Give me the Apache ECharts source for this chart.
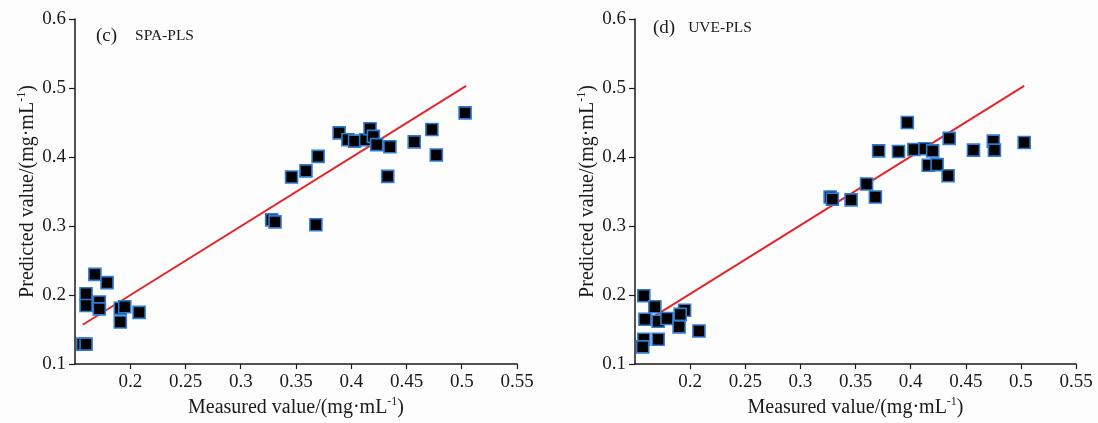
<!DOCTYPE html>
<html>
<head>
<meta charset="utf-8">
<script src="https://cdn.jsdelivr.net/npm/echarts@6/dist/echarts.min.js"></script>
<style>
  html, body { margin: 0; padding: 0; background: #fdfdfd; }
  #chart { width: 1098px; height: 423px; }
</style>
</head>
<body>
<div id="chart"></div>
<script>
// Panel (c): SPA-PLS, measured vs predicted
const measuredC = [0.168, 0.179, 0.160, 0.160, 0.172, 0.172, 0.191, 0.195, 0.191, 0.208, 0.157, 0.160,
  0.328, 0.331, 0.368, 0.346, 0.359, 0.370, 0.389, 0.397, 0.403, 0.413, 0.417, 0.420, 0.423,
  0.435, 0.433, 0.457, 0.473, 0.477, 0.503];
const predictedC = [0.230, 0.218, 0.202, 0.185, 0.190, 0.180, 0.181, 0.183, 0.161, 0.175, 0.129, 0.129,
  0.309, 0.306, 0.302, 0.371, 0.380, 0.401, 0.435, 0.425, 0.423, 0.425, 0.441, 0.430, 0.418,
  0.415, 0.372, 0.422, 0.440, 0.403, 0.464];
const fitC = [[0.157, 0.157], [0.504, 0.503]];

// Panel (d): UVE-PLS, measured vs predicted
const measuredD = [0.158, 0.168, 0.159, 0.171, 0.179, 0.195, 0.191, 0.190, 0.208, 0.158, 0.171, 0.157,
  0.327, 0.329, 0.346, 0.368, 0.360, 0.371, 0.389, 0.397, 0.403, 0.413, 0.420, 0.416, 0.424,
  0.434, 0.435, 0.457, 0.475, 0.476, 0.503];
const predictedD = [0.199, 0.183, 0.165, 0.162, 0.166, 0.178, 0.172, 0.154, 0.148, 0.136, 0.136, 0.125,
  0.342, 0.339, 0.338, 0.342, 0.361, 0.409, 0.408, 0.450, 0.411, 0.412, 0.409, 0.388, 0.389,
  0.373, 0.427, 0.410, 0.423, 0.410, 0.421];
const fitD = [[0.156, 0.158], [0.503, 0.503]];

const panelTags = ['(c)', '(d)'];
const panelMethods = ['SPA-PLS', 'UVE-PLS'];
const xAxisTitle = 'Measured value/(mg·mL';
const yAxisTitle = 'Predicted value/(mg·mL';
const unitExp = '-1';

const serif = '"Liberation Serif", "Times New Roman", serif';
const ink = '#1a1a1a';

const nameRich = {
  a: { fontFamily: serif, fontSize: 20, color: ink, lineHeight: 24 },
  s: { fontFamily: serif, fontSize: 12, color: ink, lineHeight: 24, verticalAlign: 'top' }
};
const axisName = (t) => '{a|' + t + '}{s|' + unitExp + '}{a|)}';

function xAxisFor(gridIndex) {
  return {
    type: 'value', gridIndex: gridIndex,
    min: 0.15, max: 0.55, interval: 0.05,
    name: axisName(xAxisTitle), nameLocation: 'middle', nameGap: 27,
    nameTextStyle: { rich: nameRich },
    axisLine: { show: true, onZero: false, lineStyle: { color: ink, width: 1.5 } },
    axisTick: { show: true, inside: false, length: 5, lineStyle: { color: ink, width: 1.2 } },
    axisLabel: { showMinLabel: false, margin: 8, fontFamily: serif, fontSize: 19, color: ink,
      formatter: (v) => String(+v.toFixed(2)) },
    splitLine: { show: false }
  };
}
function yAxisFor(gridIndex) {
  return {
    type: 'value', gridIndex: gridIndex,
    min: 0.1, max: 0.6, interval: 0.1,
    name: axisName(yAxisTitle), nameLocation: 'middle', nameGap: 35, nameRotate: 90,
    nameTextStyle: { rich: nameRich },
    axisLine: { show: true, onZero: false, lineStyle: { color: ink, width: 1.5 } },
    axisTick: { show: true, inside: false, length: 6, lineStyle: { color: ink, width: 1.2 } },
    axisLabel: { margin: 9, fontFamily: serif, fontSize: 19, color: ink,
      formatter: (v) => String(+v.toFixed(1)) },
    splitLine: { show: false }
  };
}

const pointStyle = { color: '#000000', borderColor: '#2f7bd2', borderWidth: 1.6, opacity: 1 };
const fitStyle = { color: '#e3262b', width: 2 };

function pairs(xs, ys) { return xs.map((x, i) => [x, ys[i]]); }

function panelTitle(i, left, top, gap) {
  return {
    text: '{t|' + panelTags[i] + '}{g| }{m|' + panelMethods[i] + '}', left: left, top: top, padding: 0,
    textStyle: { fontWeight: 'normal', rich: {
      t: { fontFamily: serif, fontSize: 19, fontWeight: 'normal', color: ink, lineHeight: 22 },
      g: { fontFamily: serif, fontSize: 19, fontWeight: 'normal', width: gap, lineHeight: 22 },
      m: { fontFamily: serif, fontSize: 15.5, fontWeight: 'normal', color: ink, lineHeight: 22 } } }
  };
}

const option = {
  backgroundColor: '#fdfdfd',
  animation: false,
  title: [panelTitle(0, 96, 25, 18), panelTitle(1, 653, 17, 13)],
  grid: [
    { left: 75, top: 19, width: 442, height: 349, containLabel: false },
    { left: 635, top: 19, width: 441, height: 348, containLabel: false }
  ],
  xAxis: [xAxisFor(0), xAxisFor(1)],
  yAxis: [yAxisFor(0), yAxisFor(1)],
  series: [
    { type: 'line', xAxisIndex: 0, yAxisIndex: 0, data: fitC, symbol: 'none',
      lineStyle: fitStyle, z: 2, silent: true },
    { type: 'scatter', xAxisIndex: 0, yAxisIndex: 0, data: pairs(measuredC, predictedC),
      symbol: 'rect', symbolSize: 12, itemStyle: pointStyle, z: 3 },
    { type: 'line', xAxisIndex: 1, yAxisIndex: 1, data: fitD, symbol: 'none',
      lineStyle: fitStyle, z: 2, silent: true },
    { type: 'scatter', xAxisIndex: 1, yAxisIndex: 1, data: pairs(measuredD, predictedD),
      symbol: 'rect', symbolSize: 12, itemStyle: pointStyle, z: 3 }
  ]
};

const chart = echarts.init(document.getElementById('chart'), null, { renderer: 'canvas' });
chart.setOption(option);
</script>
</body>
</html>
